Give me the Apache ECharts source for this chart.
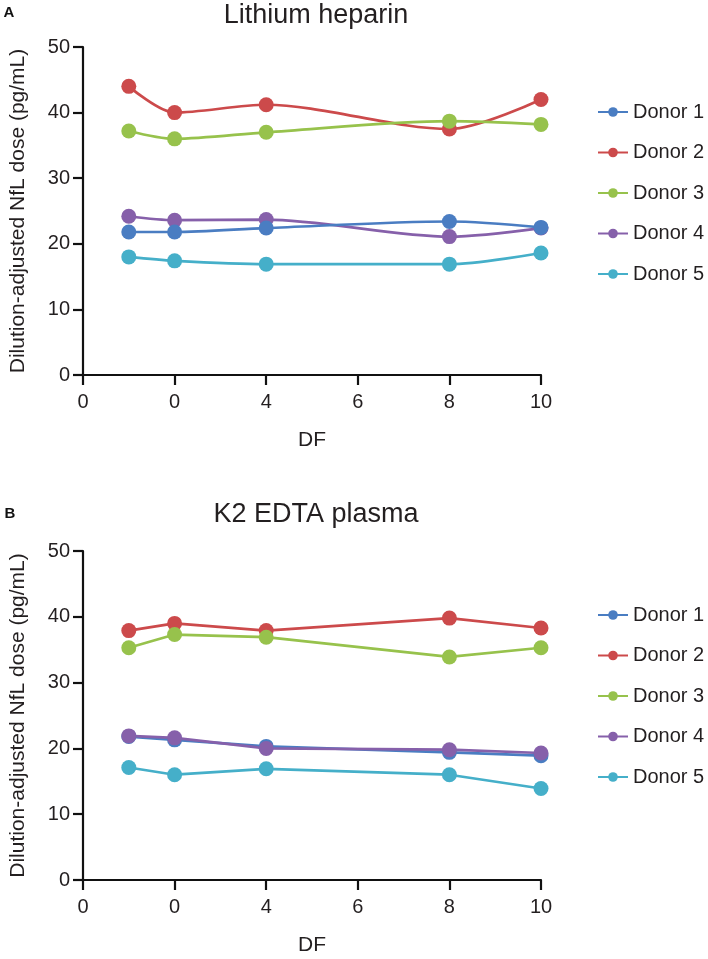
<!DOCTYPE html>
<html>
<head>
<meta charset="utf-8">
<script src="https://cdn.jsdelivr.net/npm/echarts@6/dist/echarts.min.js"></script>
<style>
html,body{margin:0;padding:0;background:#fff;}
#chart{width:708px;height:959px;}
</style>
</head>
<body>
<div id="chart"></div>
<script>
// ---- data ----
var dfValues = [1, 2, 4, 8, 10];
var xTickLabels = ['0', '0', '4', '6', '8', '10'];   // labels at 0,2,4,6,8,10 as printed
var donorNames = ['Donor 1', 'Donor 2', 'Donor 3', 'Donor 4', 'Donor 5'];
var panelTitles = ['Lithium heparin', 'K2 EDTA plasma'];
var panelLetters = ['A', 'B'];

// Panel A: Lithium heparin
var liHep_d1 = [21.8, 21.8, 22.4, 23.4, 22.5];
var liHep_d2 = [44.0, 40.0, 41.2, 37.5, 42.0];
var liHep_d3 = [37.2, 36.0, 37.0, 38.7, 38.2];
var liHep_d4 = [24.2, 23.6, 23.7, 21.1, 22.4];
var liHep_d5 = [18.0, 17.4, 16.9, 16.9, 18.6];

// Panel B: K2 EDTA plasma
var edta_d1 = [21.8, 21.3, 20.3, 19.4, 18.9];
var edta_d2 = [37.9, 39.0, 37.9, 39.8, 38.3];
var edta_d3 = [35.3, 37.3, 36.9, 33.9, 35.3];
var edta_d4 = [21.9, 21.6, 20.0, 19.8, 19.3];
var edta_d5 = [17.1, 16.0, 16.9, 16.0, 13.9];

var colors = ['#4a7dc2', '#cc4a4b', '#97c24c', '#8660aa', '#45afc9'];

var panelA = [liHep_d1, liHep_d2, liHep_d3, liHep_d4, liHep_d5];
var panelB = [edta_d1, edta_d2, edta_d3, edta_d4, edta_d5];

function pairs(vals) {
  return vals.map(function (v, i) { return [dfValues[i], v]; });
}

var FONT = 'Liberation Sans, Arial, sans-serif';
var TXT = '#231f20';

var grids = [
  { left: 83, top: 47, width: 458, height: 328 },
  { left: 83, top: 551, width: 458, height: 329 }
];

function xAxisFor(i) {
  return {
    gridIndex: i, type: 'value', min: 0, max: 10, interval: 2,
    name: 'DF', nameLocation: 'middle', nameGap: 55,
    nameTextStyle: { fontFamily: FONT, fontSize: 21, color: TXT },
    axisLine: { lineStyle: { color: '#111', width: 2.2 } },
    axisTick: { length: 10, lineStyle: { color: '#111', width: 2.2 } },
    axisLabel: {
      fontFamily: FONT, fontSize: 20, color: TXT, margin: 17,
      formatter: function (v) { return xTickLabels[Math.round(v / 2)]; }
    },
    splitLine: { show: false }
  };
}
function yAxisFor(i) {
  return {
    gridIndex: i, type: 'value', min: 0, max: 50, interval: 10,
    name: 'Dilution-adjusted NfL dose (pg/mL)', nameLocation: 'middle', nameGap: 54,
    nameTextStyle: { fontFamily: FONT, fontSize: 21, color: TXT },
    axisLine: { show: true, lineStyle: { color: '#111', width: 2.2 } },
    axisTick: { show: true, length: 10, lineStyle: { color: '#111', width: 2.2 } },
    axisLabel: { fontFamily: FONT, fontSize: 20, color: TXT, margin: 13 },
    splitLine: { show: false }
  };
}

var series = [];
[panelA, panelB].forEach(function (panel, p) {
  panel.forEach(function (vals, k) {
    series.push({
      name: donorNames[k],
      type: 'line',
      xAxisIndex: p, yAxisIndex: p,
      data: pairs(vals),
      smooth: p === 0 ? 0.3 : false,
      symbol: 'circle', symbolSize: 15,
      color: colors[k],
      lineStyle: { width: 2.7, color: colors[k] },
      itemStyle: { color: colors[k] },
      z: (p === 0 && k === 0) ? 4 : 2,
      animation: false
    });
  });
});

function legendFor(top) {
  return {
    orient: 'vertical', left: 592, top: top,
    data: donorNames,
    itemWidth: 30, itemHeight: 12, itemGap: 20.5,
    textStyle: { fontFamily: FONT, fontSize: 20, color: TXT, lineHeight: 20 },
    selectedMode: false
  };
}

var graphics = [];
[16, 515].forEach(function (y, i) {
  graphics.push({
    type: 'text', x: 316, y: y,
    style: { text: panelTitles[i], font: '27px ' + FONT, fill: TXT, textAlign: 'center', textVerticalAlign: 'middle' }
  });
});
[[9, 13], [10, 514]].forEach(function (pt, i) {
  graphics.push({
    type: 'text', x: pt[0], y: pt[1],
    style: { text: panelLetters[i], font: 'bold 15px ' + FONT, fill: '#111', textAlign: 'center', textVerticalAlign: 'middle' }
  });
});

var chart = echarts.init(document.getElementById('chart'), null, { renderer: 'canvas' });
chart.setOption({
  backgroundColor: '#ffffff',
  animation: false,
  grid: grids,
  xAxis: [xAxisFor(0), xAxisFor(1)],
  yAxis: [yAxisFor(0), yAxisFor(1)],
  legend: [legendFor(97), legendFor(600)],
  graphic: graphics,
  series: series
});
</script>
</body>
</html>
